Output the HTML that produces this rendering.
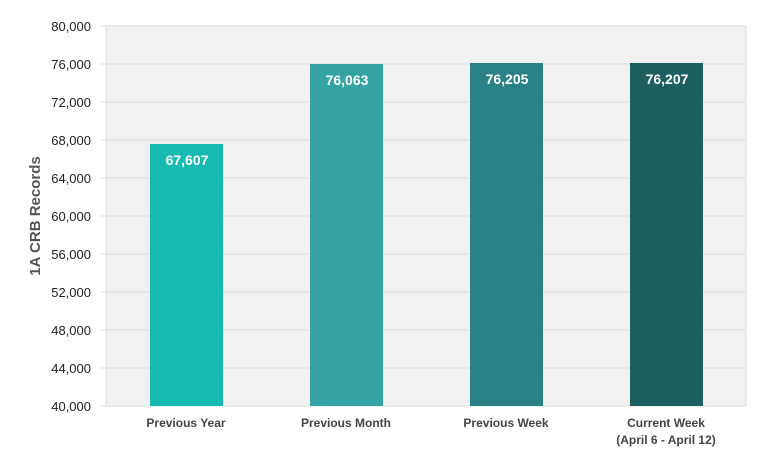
<!DOCTYPE html>
<html><head><style>body{margin:0;background:#fff}svg{display:block}text{font-family:"Liberation Sans",Arial,sans-serif}</style></head><body>
<svg width="767" height="460" viewBox="0 0 767 460">
<rect x="106" y="26" width="640" height="380" fill="#f1f1f1"/>
<g stroke="#dcdcdc" stroke-width="1">
<line x1="101" y1="26" x2="746" y2="26"/><line x1="101" y1="64" x2="746" y2="64"/><line x1="101" y1="102" x2="746" y2="102"/><line x1="101" y1="140" x2="746" y2="140"/><line x1="101" y1="178" x2="746" y2="178"/><line x1="101" y1="216" x2="746" y2="216"/><line x1="101" y1="254" x2="746" y2="254"/><line x1="101" y1="292" x2="746" y2="292"/><line x1="101" y1="330" x2="746" y2="330"/><line x1="101" y1="368" x2="746" y2="368"/><line x1="101" y1="406" x2="746" y2="406"/>
<line x1="106" y1="26" x2="106" y2="406"/><line x1="746" y1="26" x2="746" y2="406"/>
</g>
<g font-size="13" fill="#222" text-anchor="end">
<text x="91" y="31">80,000</text><text x="91" y="69">76,000</text><text x="91" y="107">72,000</text><text x="91" y="145">68,000</text><text x="91" y="183">64,000</text><text x="91" y="221">60,000</text><text x="91" y="259">56,000</text><text x="91" y="297">52,000</text><text x="91" y="335">48,000</text><text x="91" y="373">44,000</text><text x="91" y="411">40,000</text>
</g>
<text transform="translate(40,216) rotate(-90)" text-anchor="middle" font-size="15" font-weight="bold" fill="#555">1A CRB Records</text>
<rect x="150" y="144" width="73" height="262" fill="#17bab3"/>
<rect x="310" y="64" width="73" height="342" fill="#34a3a3"/>
<rect x="470" y="63" width="73" height="343" fill="#2a8186"/>
<rect x="630" y="63" width="73" height="343" fill="#1c5f5e"/>
<g font-size="14" font-weight="bold" fill="#fff" text-anchor="middle">
<text x="187" y="165">67,607</text><text x="347" y="85">76,063</text><text x="507" y="84">76,205</text><text x="667" y="84">76,207</text>
</g>
<g font-size="12" font-weight="bold" fill="#444" text-anchor="middle">
<text x="186" y="427">Previous Year</text><text x="346" y="427">Previous Month</text><text x="506" y="427">Previous Week</text><text x="666" y="427">Current Week</text><text x="666" y="444">(April 6 - April 12)</text>
</g>
</svg>
</body></html>
